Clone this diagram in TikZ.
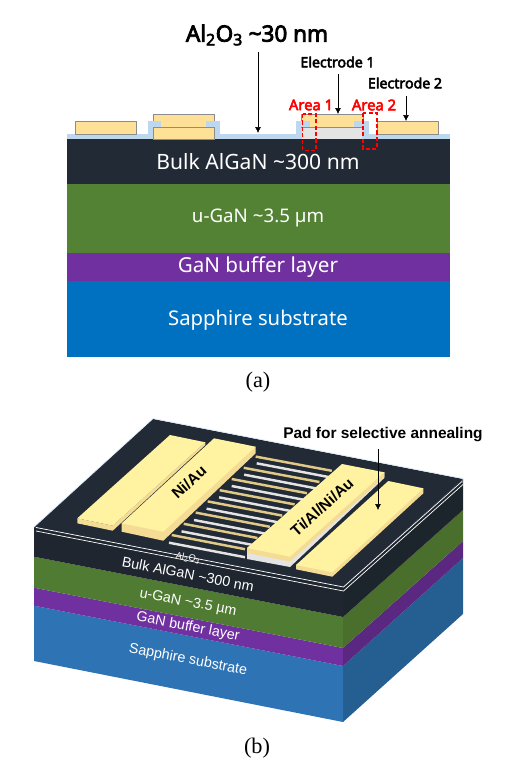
\documentclass[tikz,border=0pt]{standalone}
\usepackage{fontspec}
\setmainfont{Liberation Sans}
\newfontfamily\noto{Noto Sans}
\newfontfamily\notob{Noto Sans}[FakeBold=3.5]
\newfontfamily\tms{Liberation Serif}
\usetikzlibrary{arrows.meta}
\definecolor{alox}{HTML}{BDD7EE}
\definecolor{gold}{HTML}{FFE097}
\definecolor{edge}{HTML}{8C8C8C}
\definecolor{dkA}{HTML}{222A35}
\definecolor{grA}{HTML}{548235}
\definecolor{puA}{HTML}{7030A0}
\definecolor{blA}{HTML}{0070C0}
\definecolor{dkS}{HTML}{1D252C}
\definecolor{grS}{HTML}{4A6E2C}
\definecolor{puS}{HTML}{5A2881}
\definecolor{blF}{HTML}{2E74B5}
\definecolor{blS}{HTML}{255E91}
\definecolor{padT}{HTML}{FFF2A1}
\definecolor{padS}{HTML}{F5DC94}
\definecolor{greyM}{HTML}{E4E4E4}
\definecolor{rimB}{HTML}{DCE9F7}
\tikzset{
  layertext/.style={text=white,font=\noto\fontsize{#1}{20}\selectfont,inner sep=0pt},
  layertextb/.style={text=white,font=\fontsize{12.2}{14}\selectfont,inner sep=0pt,rotate=-11},
  eleclabel/.style={font=\notob\fontsize{12.1}{14}\selectfont,inner sep=0pt},
  arealabel/.style={font=\notob\fontsize{12.6}{14}\selectfont,text=red,inner sep=0pt},
  callout/.style={-{Latex[length=5pt,width=5pt]},line width=0.5pt,black},
  metal/.style={fill=gold,draw=edge,line width=0.85pt},
  areabox/.style={draw=red,line width=1pt,dash pattern=on 3.5pt off 2pt},
  caption/.style={font=\tms\fontsize{19}{21}\selectfont,inner sep=0pt},
  whitefinger/.style={draw=greyM,line width=2.1pt},
  goldfinger/.style={draw=padS!92!black,line width=2.1pt},
  rim/.style={draw=white,line width=0.6pt},
}
\begin{document}
\begin{tikzpicture}[x=0.03cm,y=-0.03cm]
\useasboundingbox (0,0) rectangle (522,765);
% ---------- (a) ----------
\fill[alox] (66.5,134) rectangle (450,139);
\fill[dkA] (66.5,139) rectangle (450,184);
\fill[grA] (66.5,184) rectangle (450,253);
\fill[puA] (66.5,253) rectangle (450,281);
\fill[blA] (66.5,281) rectangle (450,357);
\draw[metal] (75.5,121.5) rectangle (136,134);
% middle stack
\fill[alox] (148,121) rectangle (220,139);
\fill[white] (161,121) rectangle (206,127);
\draw[metal] (153.5,127.5) rectangle (214,139.5);
\draw[metal] (153.5,114.5) rectangle (214,127.5);
\fill[alox] (148,121) rectangle (161,127);
\fill[alox] (206,121) rectangle (220,127);
% right stack
\fill[alox] (296,121) rectangle (369,139);
\fill[greyM] (302,127) rectangle (362,139);
\draw[edge,line width=0.85pt] (302,127) -- (362,127);
\draw[metal] (301.5,114.5) rectangle (363,127.5);
\fill[alox] (296,121) rectangle (310,127);
\fill[alox] (354,121) rectangle (369,127);
\draw[metal] (377.5,121.5) rectangle (438.5,134);
\draw[areabox] (302.5,114) rectangle (316,150.5);
\draw[areabox] (363,113) rectangle (377,149);
\node[layertext=18] (bulkA) at (258,162) {Bulk AlGaN \textasciitilde300 nm};
\node[layertext=16] (uganA) at (258,218) {u-GaN \textasciitilde3.5 µm};
\node[layertext=17.6] (bufA) at (258,267) {GaN buffer layer};
\node[layertext=17.3] (sapA) at (258,320) {Sapphire substrate};
\node[inner sep=0pt,font=\notob\fontsize{19.2}{21}\selectfont] (alLab) at (257,35) {Al\textsubscript{2}O\textsubscript{3} \textasciitilde30 nm};
\node[eleclabel] (e1Lab) at (337.5,62) {Electrode 1};
\node[eleclabel] (e2Lab) at (405,83) {Electrode 2};
\node[arealabel] (a1Lab) at (311,105) {Area 1};
\node[arealabel] (a2Lab) at (374,105) {Area 2};
\coordinate (alTip) at (258,133); \coordinate (alTail) at (258,52);
\coordinate (e1Tip) at (338,114); \coordinate (e1Tail) at (338,74);
\coordinate (e2Tip) at (406,121); \coordinate (e2Tail) at (406,96);
\draw[callout] (alTail) -- (alTip);
\draw[callout] (e1Tail) -- (e1Tip);
\draw[callout] (e2Tail) -- (e2Tip);
\node[caption] (capA) at (258,382) {(a)};
% ---------- (b) ----------
% front faces
\fill[blF] (34,605.7) -- (343,666) -- (343,722) -- (34,661) -- cycle;
\fill[puA] (34,587.7) -- (343,648) -- (343,666) -- (34,605.7) -- cycle;
\fill[grA!95!black] (34,556.7) -- (343,617) -- (343,648) -- (34,587.7) -- cycle;
\fill[dkA!90!black] (34,527) -- (343,587) -- (343,617) -- (34,556.7) -- cycle;
% right faces
\fill[blS] (343,666) -- (463,558) -- (463,614) -- (343,722) -- cycle;
\fill[puS] (343,648) -- (463,541) -- (463,558) -- (343,666) -- cycle;
\fill[grS] (343,617) -- (463,510) -- (463,541) -- (343,648) -- cycle;
\fill[dkS] (343,587) -- (463,479) -- (463,510) -- (343,617) -- cycle;
% top
\fill[dkA] (34,527) -- (153,419) -- (463,479) -- (343,587) -- cycle;
\draw[rimB,line width=0.6pt] (34,527) -- (153,418.5) -- (463,478.5) -- (463,483);
\draw[rim] (36,527.5) -- (343.5,587) -- (462,481.5);
\draw[rim] (36,531) -- (343.5,591) -- (463,484.5);
% fingers
\foreach \i in {0,...,7}{
  \draw[whitefinger] ({169+12.53*\i},{542.7-11.34*\i}) -- ({245+12.53*\i},{557.2-11.34*\i});
  \draw[goldfinger] ({171.7+12.0*\i},{535-11.2*\i}) -- ({245+12.4*\i},{549.2-11.2*\i});
}
% pad 1
\fill[padS] (77.3,518.3) -- (112.7,525.7) -- (205.3,442.3) -- (205.3,445) -- (112.7,530.7) -- (77.3,523.3) -- cycle;
\fill[padT] (77.3,518.3) -- (170,435) -- (205.3,442.3) -- (112.7,525.7) -- cycle;
% pad 2
\fill[padS] (121.7,523.3) -- (121.7,531.7) -- (163.3,540.7) -- (255.7,453.3) -- (255.7,446.7) -- cycle;
\fill[padT] (121.7,523.3) -- (214,438.3) -- (255.7,446.7) -- (163.3,531.7) -- cycle;
% right pad on grey
\fill[greyM] (247,553) -- (247,559) -- (290,567) -- (384.3,478) -- (384.3,472) -- cycle;
\fill[padS] (247,548) -- (247,553) -- (290,561.7) -- (384.3,477) -- (384.3,472.3) -- cycle;
\fill[padT] (247,548) -- (342,464) -- (384.3,472.3) -- (290,556.7) -- cycle;
% far pad
\fill[padS] (296,565) -- (296,569.3) -- (332.3,576.7) -- (423.3,493.3) -- (423.3,488.3) -- cycle;
\fill[padT] (296,565) -- (388.3,481) -- (423.3,488.3) -- (332.3,572.3) -- cycle;
% labels
\node[inner sep=0pt,rotate=42,font=\bfseries\fontsize{13.2}{15}\selectfont] (niau) at (189,482) {Ni/Au};
\node[inner sep=0pt,rotate=42,font=\bfseries\fontsize{13.2}{15}\selectfont] (tial) at (322,507) {Ti/Al/Ni/Au};
\node[layertextb,font=\fontsize{8}{9}\selectfont] (alB) at (188,558) {Al\textsubscript{2}O\textsubscript{3}};
\node[layertextb] (bulkB) at (188,574) {Bulk AlGaN \textasciitilde300 nm};
\node[layertextb] (uganB) at (188,603) {u-GaN \textasciitilde3.5 µm};
\node[layertextb] (bufB) at (188,627) {GaN buffer layer};
\node[layertextb] (sapB) at (188,660) {Sapphire substrate};
\node[inner sep=0pt,font=\bfseries\fontsize{13.2}{15}\selectfont] (padLab) at (383,435) {Pad for selective annealing};
\coordinate (padTip) at (378,510); \coordinate (padTail) at (378,449);
\draw[callout] (padTail) -- (padTip);
\node[caption] (capB) at (257,748) {(b)};
\end{tikzpicture}
\end{document}
